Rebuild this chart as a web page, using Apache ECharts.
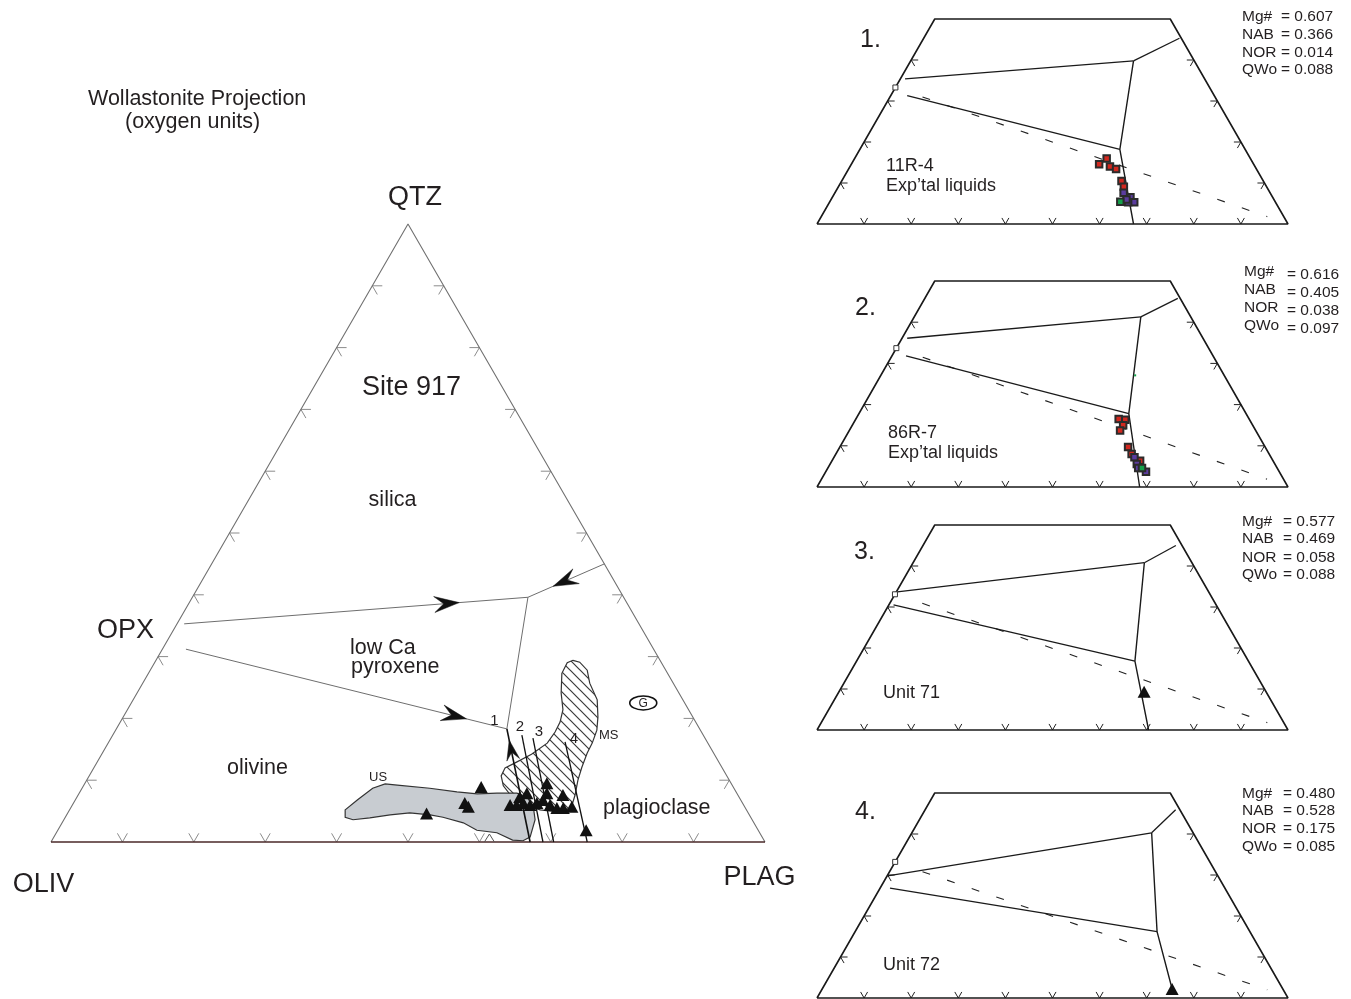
<!DOCTYPE html>
<html>
<head>
<meta charset="utf-8">
<script src="https://cdn.jsdelivr.net/npm/echarts@6/dist/echarts.min.js"></script>
<style>
  html, body { margin: 0; padding: 0; background: #fff; }
  #chart { width: 1351px; height: 999px; }
</style>
</head>
<body>
<div id="chart"></div>
<script>
// All compositions are [PLAG %, QTZ %]; OLIV = 100 - PLAG - QTZ.
const H = Math.sqrt(3) / 2;
const tickSteps = [10, 20, 30, 40, 50, 60, 70, 80, 90];
const insetSideTicks = [10, 20, 30, 40];

// ---- Main diagram (Site 917) ----
const mainFrameSides = [[0, 0], [0, 100], [100, 0]];
const mainFrameBase = [[0, 0], [100, 0]];
const opxQtzCotectic = [[1.0, 35.3], [47.0, 39.6]];
const qtzPlagCotectic = [[55.0, 45.0], [47.0, 39.6]];
const opxOlCotectic = [[3.3, 31.2], [54.7, 18.3]];
const pyxPlagBoundary = [[47.0, 39.6], [54.7, 18.3]];
const trend1 = [[67.1, 0], [54.7, 18.3]];
const trend2 = [[68.9, 0], [57.3, 17.3]];
const trend3 = [[70.4, 0], [59.1, 16.8]];
const trend4 = [[75.1, 0], [63.9, 16.2]];
// [from PLAG, from QTZ, to PLAG, to QTZ, position of tip along the segment]
const cotecticArrows = [
  [1.0, 35.3, 47.0, 39.6, 0.80],
  [55.0, 45.0, 47.0, 39.6, 0.67],
  [3.3, 31.2, 54.7, 18.3, 0.874]
];
const trendArrows = [[67.1, 0, 54.7, 18.3, 0.90]];

const usField = [[38.6, 5.2], [39.5, 6.8], [40.7, 8.7], [42.1, 9.4], [43.9, 9.2], [48.7, 8.7], [52.8, 8.1],
  [55.8, 7.8], [58.5, 7.9], [61.3, 7.9], [63.0, 7.3], [64.7, 5.7], [66.0, 3.6], [66.7, 0.8], [66.0, 0.2],
  [64.5, 0.3], [61.7, 1.5], [58.7, 1.9], [56.2, 3.1], [52.9, 4.0], [50.9, 4.4], [47.9, 4.7], [45.3, 4.4],
  [42.7, 3.9], [40.5, 3.6], [39.2, 4.0]];
const msField = [[58.4, 29.4], [59.5, 29.1], [61.2, 27.8], [62.6, 25.7], [65.0, 23.0], [66.5, 20.2], [67.4, 18.1],
  [67.8, 16.0], [67.9, 14.4], [68.3, 12.1], [68.8, 10.0], [69.6, 7.6], [70.1, 5.5], [68.2, 4.9], [65.9, 5.2],
  [63.4, 6.0], [60.9, 7.3], [58.8, 9.1], [57.7, 10.7], [57.6, 12.0], [58.6, 12.8], [60.2, 14.2], [61.5, 16.0],
  [61.7, 17.8], [61.6, 19.4], [61.0, 21.4], [59.4, 24.1], [57.9, 27.3], [57.8, 29.0]];
const site917Glasses = [[55.8, 8.9], [54.8, 6.3], [55.6, 5.7], [50.3, 4.6], [61.3, 6.0], [62.0, 7.3], [62.7, 7.9],
  [62.2, 6.0], [63.0, 6.3], [64.1, 6.0], [64.9, 6.3], [64.7, 9.5], [65.5, 7.9], [65.5, 6.8], [66.9, 6.0],
  [67.9, 7.6], [68.1, 5.5], [69.0, 5.5], [70.1, 5.7], [74.0, 1.9]];
const openPoint = [[61.4, 0]];
const granitePoint = [[71.7, 22.5]];

// ---- Inset 1: 11R-4 ----
const p1Upper = [[1.0, 35.4], [47.3, 39.8]];
const p1Branch = [[47.3, 39.8], [54.3, 45.3]];
const p1Lower = [[3.5, 31.3], [55.2, 18.2]];
const p1Boundary = [[47.3, 39.8], [55.2, 18.2], [67.2, 0]];
const p1Dashed = [[6.9, 31.0], [94.7, 1.8]];
const p1Red = [[53.5, 16.0], [52.6, 14.6], [55.2, 14.0], [56.8, 13.4], [59.4, 10.5], [60.6, 9.1]];
const p1Purple = [[61.3, 7.6], [63.3, 6.5], [64.7, 5.3], [63.4, 5.3], [62.7, 6.0]];
const p1Green = [[61.7, 5.4]];
const p1Opx = [[0, 33.3]];

// ---- Inset 2: 86R-7 ----
const p2Upper = [[1.1, 36.1], [48.1, 41.3]];
const p2Branch = [[48.1, 41.3], [53.7, 45.8]];
const p2Lower = [[3.0, 31.8], [57.3, 17.8]];
const p2Boundary = [[48.1, 41.3], [57.3, 17.8], [68.5, 0]];
const p2Dashed = [[6.7, 31.5], [94.6, 1.9]];
const p2Red = [[55.8, 16.5], [57.3, 16.3], [57.5, 15.0], [57.5, 13.7], [61.2, 9.7], [62.8, 8.0], [65.4, 6.4]];
const p2Purple = [[63.8, 7.2], [65.1, 5.6], [65.9, 4.6], [68.0, 3.7]];
const p2Green = [[66.7, 4.6]];
const p2Speck = [[54.0, 27.1]];
const p2Opx = [[0, 33.7]];

// ---- Inset 3: Unit 71 ----
const p3Upper = [[0.2, 33.7], [49.1, 40.8]];
const p3Branch = [[49.1, 40.8], [53.7, 45.0]];
const p3Lower = [[1.0, 30.5], [59.1, 16.8]];
const p3Boundary = [[49.1, 40.8], [59.1, 16.8], [70.4, 0]];
const p3Dashed = [[6.9, 30.9], [94.7, 1.8]];
const p3Glass = [[64.8, 9.3]];
const p3Opx = [[0, 33.1]];

// ---- Inset 4: Unit 72 ----
const p4Upper = [[0.1, 29.8], [50.9, 40.3]];
const p4Branch = [[50.9, 40.3], [53.2, 45.9]];
const p4Lower = [[2.1, 26.8], [64.1, 16.2]];
const p4Boundary = [[50.9, 40.3], [64.1, 16.2], [74.3, 2.2]];
const p4Dashed = [[7.0, 30.8], [94.6, 2.0]];
const p4Glass = [[74.3, 2.2]];
const p4Opx = [[0, 33.2]];

const insetFrame = [[0, 0], [0, 50], [50, 50], [100, 0], [0, 0]];
const statNames = ['Mg#', 'NAB', 'NOR', 'QWo'];
const panelStats = [
  ['0.607', '0.366', '0.014', '0.088'],
  ['0.616', '0.405', '0.038', '0.097'],
  ['0.577', '0.469', '0.058', '0.088'],
  ['0.480', '0.528', '0.175', '0.085']
];
const panelNumbers = ['1.', '2.', '3.', '4.'];
const panelCaptions = [['11R-4', 'Exp\u2019tal liquids'], ['86R-7', 'Exp\u2019tal liquids'], ['Unit 71'], ['Unit 72']];

// ---------------------------------------------------------------------------
const FONT = '"Liberation Sans", Arial, Helvetica, sans-serif';
const INK = '#231f20';
const tern = p => [(p[0] + p[1] / 2) / 100, p[1] / 100 * H];

const series = [];

function lineS(g, pts, color, width, dash, z) {
  series.push({
    type: 'line', xAxisIndex: g, yAxisIndex: g, data: pts.map(tern), symbol: 'none',
    silent: true, clip: false, z: z || 3,
    lineStyle: { color: color, width: width, type: dash || 'solid' }
  });
}

function scatterS(g, pts, symbol, size, color, border, bw, z) {
  series.push({
    type: 'scatter', xAxisIndex: g, yAxisIndex: g, data: pts.map(tern), symbol: symbol,
    symbolSize: size, silent: true, clip: false, z: z || 5,
    itemStyle: { color: color, borderColor: border || color, borderWidth: bw || 0, opacity: 1 }
  });
}

function polyS(g, pts, style, z) {
  series.push({
    type: 'custom', xAxisIndex: g, yAxisIndex: g, silent: true, clip: false, z: z || 1,
    data: [[0, 0]],
    renderItem: (params, api) => ({
      type: 'polygon',
      shape: { points: pts.map(p => api.coord(tern(p))) },
      style: style
    })
  });
}

// tick items: [PLAG, QTZ, side] side 0 = base, 1 = left edge, 2 = right edge
function tickS(g, items, len, color, width) {
  series.push({
    type: 'custom', xAxisIndex: g, yAxisIndex: g, silent: true, clip: false, z: 2,
    data: items,
    renderItem: (params, api) => {
      const p = api.coord(tern([api.value(0), api.value(1)]));
      const side = api.value(2);
      let dirs;
      if (side === 0) dirs = [[0.5, -0.866], [-0.5, -0.866]];
      else if (side === 1) dirs = [[1, 0], [0.5, 0.866]];
      else dirs = [[-1, 0], [-0.5, 0.866]];
      return {
        type: 'group',
        children: dirs.map(d => ({
          type: 'line',
          shape: { x1: p[0], y1: p[1], x2: p[0] + d[0] * len, y2: p[1] + d[1] * len },
          style: { stroke: color, lineWidth: width }
        }))
      };
    }
  });
}

function arrowS(g, items, len, halfW, color) {
  series.push({
    type: 'custom', xAxisIndex: g, yAxisIndex: g, silent: true, clip: false, z: 6,
    data: items,
    renderItem: (params, api) => {
      const a = api.coord(tern([api.value(0), api.value(1)]));
      const b = api.coord(tern([api.value(2), api.value(3)]));
      const t = api.value(4);
      const dx = b[0] - a[0], dy = b[1] - a[1];
      const L = Math.hypot(dx, dy), ux = dx / L, uy = dy / L, nx = -uy, ny = ux;
      const tip = [a[0] + dx * t, a[1] + dy * t];
      const back = [tip[0] - ux * len, tip[1] - uy * len];
      const notch = [tip[0] - ux * len * 0.62, tip[1] - uy * len * 0.62];
      return {
        type: 'polygon',
        shape: { points: [tip, [back[0] + nx * halfW, back[1] + ny * halfW], notch,
          [back[0] - nx * halfW, back[1] - ny * halfW]] },
        style: { fill: color, stroke: color, lineWidth: 0.5 }
      };
    }
  });
}

function hatchCanvas() {
  const c = document.createElement('canvas');
  c.width = 10; c.height = 10;
  const g = c.getContext('2d');
  g.fillStyle = '#fff';
  g.fillRect(0, 0, 10, 10);
  g.strokeStyle = '#3a3a3a';
  g.lineWidth = 1.2;
  g.beginPath();
  g.moveTo(-1, -1); g.lineTo(11, 11);
  g.moveTo(-1, 9); g.lineTo(1, 11);
  g.moveTo(9, -1); g.lineTo(11, 1);
  g.stroke();
  return c;
}

// ---- main diagram series ----
const baseTicks = tickSteps.map(v => [v, 0, 0]);
const leftTicks = tickSteps.map(v => [0, v, 1]);
const rightTicks = tickSteps.map(v => [100 - v, v, 2]);
tickS(0, baseTicks.concat(leftTicks, rightTicks), 10, '#8c8c8c', 1);
lineS(0, mainFrameSides, '#707070', 1.1);
lineS(0, mainFrameBase, '#4a2828', 1.5);
polyS(0, msField, { fill: { image: hatchCanvas(), repeat: 'repeat' }, stroke: '#333', lineWidth: 1.2 }, 1);
polyS(0, usField, { fill: '#c8ccd1', stroke: '#333', lineWidth: 1.2 }, 1);
lineS(0, opxQtzCotectic, '#6e6e6e', 1);
lineS(0, qtzPlagCotectic, '#6e6e6e', 1);
lineS(0, opxOlCotectic, '#6e6e6e', 1);
lineS(0, pyxPlagBoundary, '#6e6e6e', 1);
lineS(0, trend1, '#111', 1.6);
lineS(0, trend2, '#111', 1.3);
lineS(0, trend3, '#111', 1.3);
lineS(0, trend4, '#111', 1.3);
arrowS(0, cotecticArrows, 25, 8, '#111');
arrowS(0, trendArrows, 20, 6.5, '#111');
scatterS(0, site917Glasses, 'triangle', [13, 12], '#111', '#111', 0, 7);
// open caret sitting on the base line
series.push({
  type: 'custom', xAxisIndex: 0, yAxisIndex: 0, silent: true, clip: false, z: 5,
  data: openPoint,
  renderItem: (params, api) => {
    const p = api.coord(tern([api.value(0), api.value(1)]));
    return {
      type: 'polyline',
      shape: { points: [[p[0] - 5, p[1]], [p[0], p[1] - 8], [p[0] + 5, p[1]]] },
      style: { stroke: '#555', lineWidth: 1, fill: null }
    };
  }
});
series.push({
  type: 'custom', xAxisIndex: 0, yAxisIndex: 0, silent: true, clip: false, z: 5,
  data: granitePoint,
  renderItem: (params, api) => {
    const p = api.coord(tern([api.value(0), api.value(1)]));
    return {
      type: 'group',
      children: [
        { type: 'ellipse', shape: { cx: p[0], cy: p[1], rx: 13.5, ry: 7 },
          style: { fill: '#fff', stroke: '#111', lineWidth: 1.6 } },
        { type: 'text', x: p[0], y: p[1] + 0.5,
          style: { text: 'G', fill: INK, fontSize: 12, fontFamily: FONT, align: 'center', verticalAlign: 'middle' } }
      ]
    };
  }
});

// ---- inset series ----
const panels = [
  { upper: p1Upper, branch: p1Branch, lower: p1Lower, boundary: p1Boundary, dashed: p1Dashed, opx: p1Opx,
    red: p1Red, purple: p1Purple, green: p1Green },
  { upper: p2Upper, branch: p2Branch, lower: p2Lower, boundary: p2Boundary, dashed: p2Dashed, opx: p2Opx,
    red: p2Red, purple: p2Purple, green: p2Green, speck: p2Speck },
  { upper: p3Upper, branch: p3Branch, lower: p3Lower, boundary: p3Boundary, dashed: p3Dashed, opx: p3Opx,
    glass: p3Glass },
  { upper: p4Upper, branch: p4Branch, lower: p4Lower, boundary: p4Boundary, dashed: p4Dashed, opx: p4Opx,
    glass: p4Glass }
];
const insetTicks = tickSteps.map(v => [v, 0, 0])
  .concat(insetSideTicks.map(v => [0, v, 1]), insetSideTicks.map(v => [100 - v, v, 2]));

panels.forEach((p, i) => {
  const g = i + 1;
  tickS(g, insetTicks, 7, '#222', 1);
  lineS(g, insetFrame, '#1a1a1a', 1.6);
  lineS(g, p.dashed, '#222', 1.1, [8, 18]);
  lineS(g, p.upper, '#1a1a1a', 1.3);
  lineS(g, p.branch, '#1a1a1a', 1.3);
  lineS(g, p.lower, '#1a1a1a', 1.3);
  lineS(g, p.boundary, '#1a1a1a', 1.4);
  scatterS(g, p.opx, 'rect', 5, '#fff', '#333', 1, 4);
  if (p.red) scatterS(g, p.red, 'rect', 6.5, '#d2281f', '#2b2b2b', 2, 6);
  if (p.purple) scatterS(g, p.purple, 'rect', 6.5, '#5b3c9e', '#2b2b2b', 2, 7);
  if (p.green) scatterS(g, p.green, 'rect', 6.5, '#15a04a', '#2b2b2b', 2, 8);
  if (p.speck) scatterS(g, p.speck, 'rect', 2, '#15a04a', '#15a04a', 0, 4);
  if (p.glass) scatterS(g, p.glass, 'triangle', [13, 12], '#111', '#111', 0, 7);
});

// ---- text ----
function txt(x, y, text, size, align) {
  const a = align || 'left';
  return {
    type: 'text', x: x, y: y, silent: true, z: 10,
    style: { text: text, fill: INK, fontSize: size, fontFamily: FONT,
      align: a, verticalAlign: 'middle', textAlign: a, textVerticalAlign: 'middle' }
  };
}

const texts = [
  txt(88, 99.5, 'Wollastonite Projection', 21.5),
  txt(125, 122, '(oxygen units)', 21.5),
  txt(415, 198, 'QTZ', 27, 'center'),
  txt(97, 631, 'OPX', 27),
  txt(43.5, 885, 'OLIV', 27, 'center'),
  txt(759.5, 878, 'PLAG', 27, 'center'),
  txt(411.5, 388, 'Site 917', 27, 'center'),
  txt(392.5, 500, 'silica', 21.5, 'center'),
  txt(350, 648.5, 'low Ca', 21.5),
  txt(351, 667, 'pyroxene', 21.5),
  txt(227, 768.5, 'olivine', 21.5),
  txt(603, 808, 'plagioclase', 21.5),
  txt(369, 777.5, 'US', 13),
  txt(599, 735.5, 'MS', 13),
  txt(494.5, 720.5, '1', 15, 'center'),
  txt(520, 727, '2', 15, 'center'),
  txt(539, 732, '3', 15, 'center'),
  txt(574, 739, '4', 15, 'center')
];

const panelLayout = [
  { num: [860, 40], cap: [886, 166], capGap: 20.5, nameX: 1242, valX: 1281,
    nameY: [17, 34.5, 52.3, 70], valY: [17, 34.5, 52.3, 70] },
  { num: [855, 308.3], cap: [888, 433.3], capGap: 19.4, nameX: 1244, valX: 1287,
    nameY: [271.7, 289.5, 307.5, 325.5], valY: [275, 292.7, 310.7, 329] },
  { num: [854, 551.7], cap: [883, 692.7], capGap: 20, nameX: 1242, valX: 1283,
    nameY: [521.7, 539, 557.3, 575], valY: [521.7, 539, 557.3, 575] },
  { num: [855, 811.7], cap: [883, 965], capGap: 20, nameX: 1242, valX: 1283,
    nameY: [793.3, 811, 829, 846.7], valY: [793.3, 811, 829, 846.7] }
];
panelLayout.forEach((L, i) => {
  texts.push(txt(L.num[0], L.num[1], panelNumbers[i], 25));
  panelCaptions[i].forEach((c, k) => texts.push(txt(L.cap[0], L.cap[1] + k * L.capGap, c, 18)));
  statNames.forEach((n, k) => {
    texts.push(txt(L.nameX, L.nameY[k], n, 15.5));
    texts.push(txt(L.valX, L.valY[k], '= ' + panelStats[i][k], 15.5));
  });
});

// ---- grids / axes ----
const gridBoxes = [
  { left: 51, top: 224, width: 714, height: 618, ymax: H },
  { left: 817, top: 19, width: 471, height: 205, ymax: H / 2 },
  { left: 817, top: 281, width: 471, height: 206, ymax: H / 2 },
  { left: 817, top: 525, width: 471, height: 205, ymax: H / 2 },
  { left: 817, top: 793, width: 471, height: 205, ymax: H / 2 }
];

const chart = echarts.init(document.getElementById('chart'), null, { renderer: 'canvas' });
chart.setOption({
  animation: false,
  backgroundColor: '#fff',
  grid: gridBoxes.map(b => ({ left: b.left, top: b.top, width: b.width, height: b.height,
    containLabel: false, outerBoundsMode: 'none', show: false })),
  xAxis: gridBoxes.map((b, i) => ({ type: 'value', gridIndex: i, min: 0, max: 1, show: false })),
  yAxis: gridBoxes.map((b, i) => ({ type: 'value', gridIndex: i, min: 0, max: b.ymax, show: false })),
  graphic: { elements: texts },
  series: series
});
</script>
</body>
</html>
